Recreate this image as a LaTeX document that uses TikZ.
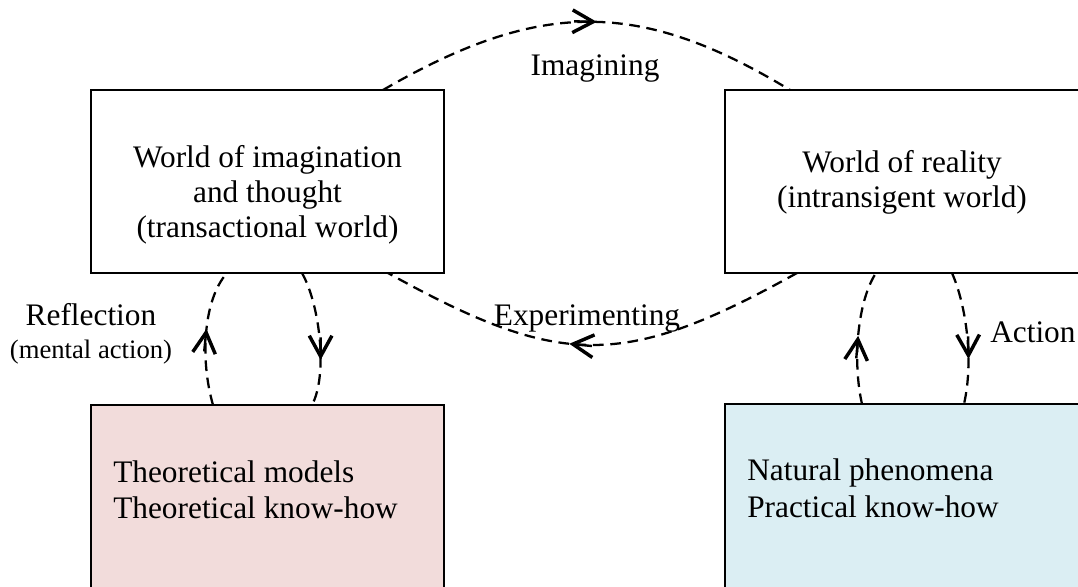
\documentclass[tikz,border=0pt]{standalone}
\usepackage{fontspec}
\setmainfont{Liberation Serif}
\usetikzlibrary{arrows.meta,calc,decorations.markings}

\definecolor{theofill}{RGB}{242,220,219}
\definecolor{natfill}{RGB}{219,238,243}

\tikzset{
  box/.style={draw=black, line width=1.5pt, rectangle, inner sep=0pt, outer sep=0pt},
  topbox/.style={box, minimum width=#1, minimum height=137.25pt},
  lowbox/.style={box, minimum width=#1, minimum height=161.25pt},
  bigtxt/.style={inner sep=0pt, font=\fontsize{23.5}{26.25}\selectfont},
  smalltxt/.style={inner sep=0pt, font=\fontsize{20}{24}\selectfont},
  flow/.style={line width=1.7pt, dash pattern=on 8pt off 5pt},
  midarrow/.style={postaction={decorate}, decoration={markings,
      mark=at position #1 with {\draw[solid, line width=1.8pt,
        -{Straight Barb[length=15.5pt, width=17pt, line width=2.6pt]}] (-16pt,0) -- (1pt,0);}}},
}

\begin{document}
\begin{tikzpicture}[x=0.75pt, y=-0.75pt]
  \useasboundingbox (0,0) rectangle (1078,586);
  \clip (0,0) rectangle (1078,586);

  % the two worlds
  \node[topbox=264.75pt] (imag) at (267.5,181.5) {};
  \node[topbox=270pt] (real) at (905,181.5) {};
  \node[bigtxt, align=center, anchor=north] (imagtxt) at (267.5,145.6)
    {World of imagination\\and thought\\(transactional world)};
  \node[bigtxt, align=center, anchor=north] (realtxt) at (902,150)
    {World of reality\\(intransigent world)};

  % what each world holds
  \node[lowbox=264.75pt, fill=theofill] (theo) at (267.5,512.5) {};
  \node[lowbox=270pt, fill=natfill] (nat) at (905,511.5) {};
  \node[bigtxt, align=left, anchor=north west, font=\fontsize{23.5}{27}\selectfont] (theotxt) at (113,460.6)
    {Theoretical models\\Theoretical know-how};
  \node[bigtxt, align=left, anchor=north west, font=\fontsize{23.5}{27.5}\selectfont] (nattxt) at (747,458.6)
    {Natural phenomena\\Practical know-how};

  % imagining and experimenting between the worlds
  \draw[flow, midarrow=0.52] ($(imag.north west)+(292,0)$)
    .. controls (540,-1) and (640,-1) .. ($(real.north west)+(65,0)$);
  \draw[flow, midarrow=0.55] ($(real.south west)+(72,0)$)
    .. controls (624,369) and (561,369) .. ($(imag.south west)+(297,0)$);

  % reflection on the theoretical side
  \draw[flow, midarrow=0.55] ($(theo.north west)+(122,0)$)
    .. controls (200,360) and (203,300) .. ($(imag.south west)+(136,0)$);
  \draw[flow, midarrow=0.65] ($(imag.south west)+(211,0)$)
    .. controls (320,305) and (328,375) .. ($(theo.north west)+(221,0)$);

  % action on the practical side
  \draw[flow, midarrow=0.5] ($(nat.north west)+(137,0)$)
    .. controls (852,360) and (858,300) .. ($(real.south west)+(151,0)$);
  \draw[flow, midarrow=0.65] ($(real.south west)+(227,0)$)
    .. controls (966,305) and (974,360) .. ($(nat.north west)+(239,0)$);

  % labels
  \node[bigtxt, anchor=base] (imglbl) at (595,75) {Imagining};
  \node[bigtxt, anchor=base] (explbl) at (587,325) {Experimenting};
  \node[bigtxt, anchor=base] (refllbl) at (91,325) {Reflection};
  \node[smalltxt, anchor=base] (mentlbl) at (91,358) {(mental action)};
  \node[bigtxt, anchor=base west] (actlbl) at (990,342) {Action};
\end{tikzpicture}
\end{document}
